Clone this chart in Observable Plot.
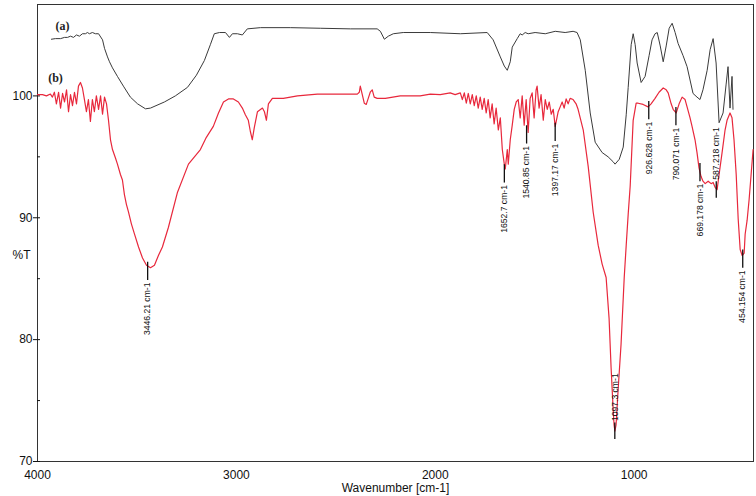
<!DOCTYPE html>
<html>
<head>
<meta charset="utf-8">
<script src="https://cdn.jsdelivr.net/npm/d3@7"></script>
<script src="https://cdn.jsdelivr.net/npm/@observablehq/plot@0.6"></script>
<style>
  html, body { margin: 0; padding: 0; background: #fff; }
  #chart svg { display: block; }
</style>
</head>
<body>
<div id="chart"></div>
<script>
// Spectrum (a): [wavenumber cm-1, %T]
const spectrumA = [
  [3930,104.65],[3910,104.7],[3884,104.7],[3864,104.8],[3849,104.8],[3834,104.9],[3819,104.8],[3804,105.0],[3789,104.9],[3774,105.1],
  [3759,105.1],[3749,105.2],[3739,105.1],[3724,105.2],[3709,105.1],[3693,105.1],[3673,104.6],[3663,103.9],[3648,103.2],[3638,102.8],
  [3623,102.3],[3598,101.6],[3568,100.8],[3533,99.9],[3497,99.35],[3457,98.94],[3432,99.0],[3362,99.5],[3307,100.0],[3246,100.7],
  [3201,101.7],[3161,102.9],[3131,104.2],[3111,105.1],[3085,105.2],[3055,105.2],[3035,104.8],[3020,105.1],[2995,105.1],[2970,105.0],
  [2945,105.5],[2879,105.6],[2729,105.6],[2578,105.55],[2427,105.5],[2292,105.5],[2276,105.3],[2256,104.65],[2236,104.9],[2211,105.1],
  [2161,105.2],[2025,105.2],[1874,105.1],[1739,105.2],[1709,104.6],[1673,103.2],[1653,102.45],[1638,102.1],[1623,102.8],[1613,104.0],
  [1588,104.7],[1573,105.1],[1563,105.0],[1548,105.2],[1533,105.1],[1498,105.2],[1447,105.1],[1397,105.3],[1347,105.2],[1307,105.3],
  [1287,105.2],[1271,104.6],[1246,102.1],[1221,98.6],[1196,96.2],[1161,95.35],[1131,95.0],[1106,94.6],[1096,94.4],[1075,94.8],
  [1055,95.8],[1040,98.45],[1030,100.7],[1015,104.2],[1005,105.1],[995,104.2],[985,102.7],[965,101.1],[945,101.6],[925,103.3],
  [910,104.6],[895,105.1],[884,105.2],[869,104.1],[854,102.8],[839,104.1],[824,105.55],[809,105.96],[794,105.2],[779,104.3],
  [754,103.3],[734,102.4],[704,100.2],[684,99.9],[669,99.7],[654,100.5],[633,102.1],[618,103.8],[603,104.7],[588,102.7],
  [573,97.8],[553,98.6],[538,100.9],[528,102.4],[518,99.0],[508,101.6],[503,98.9]
];

// Spectrum (b): [wavenumber cm-1, %T]
const spectrumB = [
  [4000,100.1],[3975,100.1],[3955,100.0],[3935,100.15],[3925,99.9],[3915,100.3],[3905,99.35],[3894,100.3],[3884,99.0],[3874,100.2],
  [3864,99.5],[3854,100.5],[3844,98.7],[3834,100.1],[3824,99.2],[3814,100.3],[3804,99.35],[3794,100.8],[3784,101.1],[3774,100.65],
  [3764,99.7],[3754,98.7],[3744,99.7],[3734,97.9],[3724,99.7],[3714,98.7],[3704,100.0],[3693,98.9],[3683,100.0],[3673,98.5],
  [3663,99.9],[3653,99.35],[3643,98.0],[3633,96.4],[3623,95.6],[3608,94.9],[3598,94.4],[3583,93.55],[3573,93.1],[3563,91.9],
  [3553,91.1],[3543,90.5],[3528,89.5],[3513,88.7],[3492,87.6],[3472,86.7],[3452,86.1],[3432,85.9],[3412,86.1],[3392,86.9],
  [3372,87.6],[3342,89.2],[3296,92.1],[3241,94.4],[3181,95.6],[3151,96.6],[3116,97.5],[3090,98.6],[3065,99.5],[3040,99.75],
  [3015,99.75],[2990,99.5],[2970,99.0],[2955,98.45],[2940,98.0],[2930,97.1],[2920,96.4],[2910,97.4],[2894,98.7],[2869,99.0],
  [2859,98.7],[2849,98.0],[2839,99.35],[2819,99.8],[2764,99.8],[2693,100.0],[2593,100.15],[2477,100.15],[2392,100.15],[2382,100.3],
  [2377,100.8],[2367,100.1],[2357,99.4],[2347,99.3],[2337,99.8],[2327,100.3],[2317,100.5],[2307,99.9],[2292,99.8],[2251,99.8],
  [2176,100.0],[2076,100.0],[2025,100.15],[1975,100.1],[1925,100.25],[1900,100.1],[1874,100.25],[1864,99.7],[1854,100.25],[1844,99.4],
  [1834,100.2],[1824,99.35],[1814,100.1],[1804,99.2],[1794,100.0],[1784,99.0],[1774,99.9],[1764,98.9],[1754,99.8],[1744,98.6],
  [1734,99.7],[1724,98.2],[1714,99.35],[1704,97.7],[1694,99.0],[1683,97.2],[1673,98.2],[1663,95.6],[1653,94.4],[1648,94.0],
  [1638,95.6],[1633,94.4],[1623,96.4],[1613,97.6],[1603,98.9],[1593,99.5],[1583,99.7],[1573,98.2],[1563,100.0],[1553,97.6],
  [1543,99.7],[1533,97.0],[1523,99.8],[1513,100.25],[1503,98.2],[1493,100.5],[1488,100.8],[1478,99.0],[1468,100.1],[1457,98.0],
  [1447,99.7],[1437,98.9],[1427,99.5],[1417,98.5],[1407,98.9],[1397,97.5],[1382,98.7],[1372,99.1],[1362,99.5],[1352,99.0],
  [1342,99.75],[1332,99.35],[1322,99.8],[1307,99.7],[1292,99.35],[1282,98.9],[1256,97.2],[1231,94.2],[1206,90.45],[1181,87.75],
  [1161,86.2],[1141,85.1],[1126,81.7],[1116,77.7],[1106,74.4],[1101,73.0],[1097,72.5],[1091,73.0],[1081,75.8],[1066,79.6],
  [1050,85.1],[1040,87.75],[1030,90.3],[1020,92.6],[1005,98.0],[990,99.4],[980,99.4],[955,99.3],[930,99.1],[915,99.35],
  [895,99.8],[875,100.3],[854,100.65],[839,100.5],[829,100.25],[814,99.35],[804,98.9],[789,98.6],[774,99.35],[759,99.9],
  [744,99.7],[734,99.1],[719,98.2],[709,97.5],[694,96.4],[684,95.35],[674,94.1],[664,93.4],[654,93.0],[643,92.8],
  [628,93.0],[613,92.8],[603,92.9],[593,92.5],[583,92.3],[573,93.55],[558,95.35],[543,97.2],[533,98.0],[518,98.6],
  [508,98.2],[498,96.4],[487,93.55],[477,89.9],[467,87.4],[457,86.9],[447,87.1],[442,88.65],[432,89.8],[422,91.5],
  [412,93.55],[402,95.6]
];

// Peak annotations on spectrum (b)
const peakWavenumbers = [3446.21, 1652.7, 1540.85, 1397.17, 1097.3, 926.628, 790.071, 669.178, 587.218, 454.154];
const peakTransmittance = [85.9, 93.9, 97.1, 97.3, 72.3, 99.1, 98.6, 94.0, 92.1, 86.9];
const peakLabelSide = ["below", "below", "below", "below", "above", "below", "below", "below", "above", "below"];

const xTicks = [4000, 3000, 2000, 1000];
const yTicks = [70, 80, 90, 100];
const yMinorTicks = [70, 75, 80, 85, 90, 95, 100];
const seriesNames = ["(a)", "(b)"];

const peaks = peakWavenumbers.map((wn, i) => {
  const t = peakTransmittance[i];
  const below = peakLabelSide[i] === "below";
  return {
    wn, t,
    label: `${wn} cm-1`,
    below,
    y1: below ? t + 0.45 : t - 0.5,
    y2: below ? t - 1.05 : t + 0.85
  };
});

const chart = Plot.plot({
  width: 756,
  height: 496,
  marginLeft: 37,
  marginRight: 3,
  marginTop: 4,
  marginBottom: 35,
  x: { domain: [4000, 400] },
  y: { domain: [70, 107.5] },
  style: {
    fontFamily: "'Liberation Sans Narrow', 'Arial Narrow', 'Liberation Sans', Arial, sans-serif",
    fontSize: "12px",
    background: "#fff",
    color: "#111"
  },
  marks: [
    Plot.frame({ stroke: "#333", strokeWidth: 1 }),
    Plot.axisY({ ticks: yTicks, tickSize: 4, tickPadding: 1, label: null, stroke: "#111", tickFormat: d => String(d) }),
    Plot.axisY({ ticks: yMinorTicks, tickSize: -3, text: null, label: null, stroke: "#111" }),
    Plot.axisX({
      ticks: xTicks, tickSize: 0, tickPadding: 9, tickFormat: d => String(d),
      label: "Wavenumber [cm-1]", labelAnchor: "center", labelArrow: "none", labelOffset: 30
    }),
    Plot.text(["%T"], { frameAnchor: "left", dx: -25, dy: 22, fontSize: 12 }),
    Plot.line(spectrumA, { x: d => d[0], y: d => d[1], stroke: "#3a3a3a", strokeWidth: 1 }),
    Plot.line(spectrumB, { x: d => d[0], y: d => d[1], stroke: "#e8283c", strokeWidth: 1.2 }),
    Plot.ruleX(peaks, { x: "wn", y1: "y1", y2: "y2", stroke: "#111", strokeWidth: 1.3 }),
    Plot.text(peaks.filter(d => d.below), {
      x: "wn", y: "y2", text: "label", rotate: -90, textAnchor: "end", dx: 0, dy: 2,
      fontSize: 8.6, fontFamily: "'Liberation Sans', Arial, sans-serif", fill: "#111"
    }),
    Plot.text(peaks.filter(d => !d.below), {
      x: "wn", y: "y2", text: "label", rotate: -90, textAnchor: "start", dy: -2,
      fontSize: 8.6, fontFamily: "'Liberation Sans', Arial, sans-serif", fill: "#111"
    }),
    Plot.text([seriesNames[0]], {
      frameAnchor: "top-left", lineAnchor: "middle", textAnchor: "middle", dx: 25, dy: 22, fontSize: 12, fontWeight: "bold",
      fontFamily: "'Liberation Serif', 'Times New Roman', serif", fill: "#222"
    }),
    Plot.text([seriesNames[1]], {
      frameAnchor: "top-left", lineAnchor: "middle", textAnchor: "middle", dx: 18, dy: 74, fontSize: 12, fontWeight: "bold",
      fontFamily: "'Liberation Serif', 'Times New Roman', serif", fill: "#222"
    })
  ]
});

document.getElementById("chart").appendChild(chart);
</script>
</body>
</html>
